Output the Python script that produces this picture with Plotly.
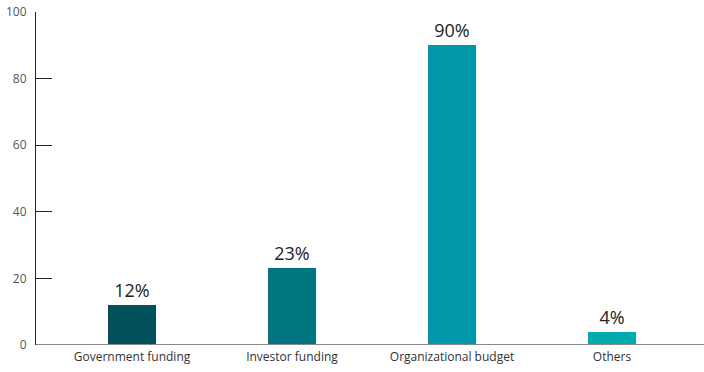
import plotly.graph_objects as go

categories = ["Government funding", "Investor funding", "Organizational budget", "Others"]
values = [12, 23, 90, 4]
bar_labels = ["12%", "23%", "90%", "4%"]
colors = ["#02505B", "#007681", "#0097A9", "#00ABAB"]
y_ticks = [0, 20, 40, 60, 80, 100]

fig = go.Figure()
fig.add_trace(go.Bar(
    x=list(range(len(categories))),
    y=values,
    width=0.3,
    marker=dict(color=colors, line=dict(width=0)),
    text=bar_labels,
    textposition="outside",
    cliponaxis=False,
    textfont=dict(family="Open Sans", size=18, color="#222222"),
))

fig.update_layout(
    width=704, height=372,
    margin=dict(l=36, r=0, t=12, b=27),
    paper_bgcolor="white", plot_bgcolor="white",
    showlegend=False,
    bargap=0,
    xaxis=dict(
        range=[-0.6, 3.575],
        tickvals=list(range(len(categories))),
        ticktext=categories,
        showgrid=False, zeroline=False,
        showline=False, ticks="",
        tickfont=dict(family="Open Sans", size=12, color="#333333"),
        ticklabelstandoff=3,
    ),
    yaxis=dict(
        range=[0, 100],
        tickvals=y_ticks,
        showgrid=False, zeroline=False,
        showline=True, linecolor="#222222", linewidth=1,
        ticks="inside", ticklen=16, tickcolor="#222222", tickwidth=1,
        tickfont=dict(family="Open Sans", size=12, color="#555555"),
        ticklabelstandoff=6,
    ),
)
# baseline along the category axis
fig.add_shape(type="line", xref="paper", yref="y", x0=0, x1=1, y0=0, y1=0,
              line=dict(color="#888888", width=2))

fig.write_html("out.html")
